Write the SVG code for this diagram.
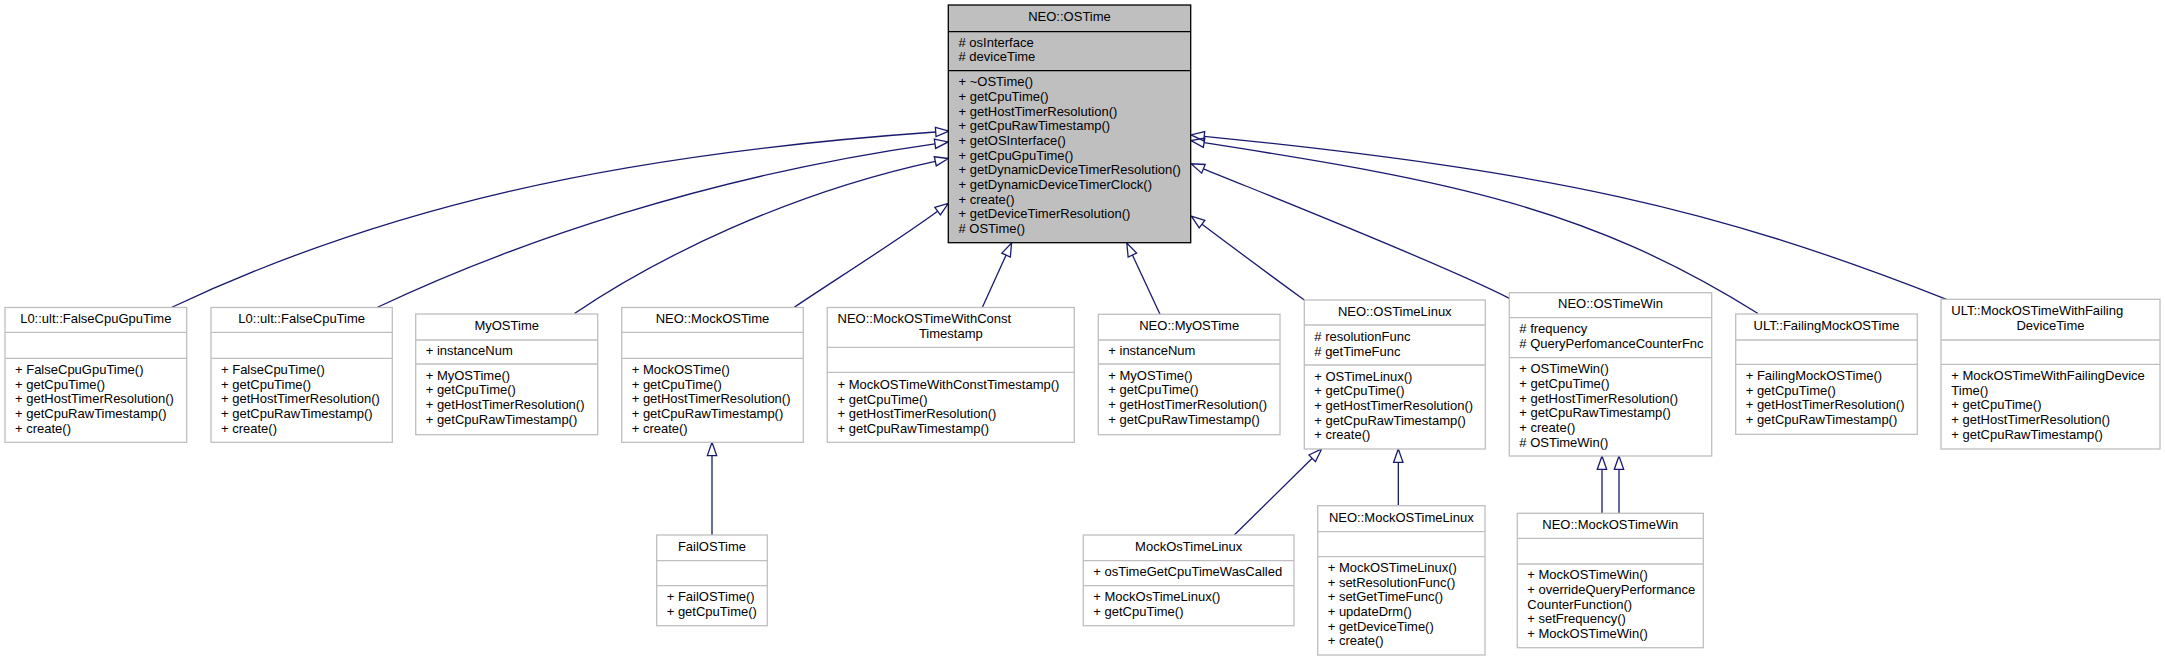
<svg xmlns="http://www.w3.org/2000/svg" width="2165" height="661" viewBox="0 0 2165 661">
<style>
text{font-family:"Liberation Sans",Arial,Helvetica,sans-serif;font-size:13px;fill:#000}
.c{text-anchor:middle}
.box{fill:#fff;stroke:#bfbfbf;stroke-width:1.3}
.sep{stroke:#bfbfbf;stroke-width:1.3}
.main{fill:#bfbfbf;stroke:#000;stroke-width:1.3}
.msep{stroke:#000;stroke-width:1.3}
.e{fill:none;stroke:#191970;stroke-width:1.3;marker-end:url(#arr)}
</style>
<defs>
<marker id="arr" markerUnits="userSpaceOnUse" markerWidth="16" markerHeight="12" refX="1" refY="6" orient="auto" overflow="visible">
<path d="M1,1.33 L14.3,6 L1,10.67 Z" fill="none" stroke="#191970" stroke-width="1.3"/>
</marker>
</defs>
<rect width="2165" height="661" fill="#fff"/>

<g id="connectors">
<path class="e" d="M171.4,307.5 C379.8,209.2 606.5,155.1 935.7,132"/>
<path class="e" d="M377,307.5 C513,243.4 707,176 935,143.8"/>
<path class="e" d="M574.5,313.5 C657.4,257.4 788.8,192.9 935.3,161.3"/>
<path class="e" d="M794,307.5 C827,285 897,241 937.6,211.2"/>
<path class="e" d="M982.3,307.5 L1006.1,255.1"/>
<path class="e" d="M1160,314.3 L1132.4,255.1"/>
<path class="e" d="M1304.3,300 C1270,275 1235,249 1202,224.2"/>
<path class="e" d="M1509.3,298.3 C1440,263 1270,196 1203.4,168.8"/>
<path class="e" d="M1758,313.5 C1588.4,207.3 1451,181 1204.1,142.7"/>
<path class="e" d="M1946.5,299.3 C1713.8,207.7 1550.7,171.3 1204.2,136.3"/>
<path class="e" d="M712,535 L712,455.6"/>
<path class="e" d="M1234.3,535 L1312.2,458.3"/>
<path class="e" d="M1398.3,505.7 L1398.3,462.3"/>
<path class="e" d="M1602,513.3 L1602,469.3"/>
<path class="e" d="M1619,513.3 L1619,469.3"/>
</g>

<g id="node-OSTime">
<rect class="main" x="948.3" y="5" width="242.4" height="237.7"/>
<line class="msep" x1="948.3" y1="31.7" x2="1190.7" y2="31.7"/>
<line class="msep" x1="948.3" y1="70.7" x2="1190.7" y2="70.7"/>
<text class="c" x="1069.5" y="20.7">NEO::OSTime</text>
<text x="958.5" y="46.7"># osInterface</text>
<text x="958.5" y="61.3"># deviceTime</text>
<text x="958.5" y="86.3">+ ~OSTime()</text>
<text x="958.5" y="101">+ getCpuTime()</text>
<text x="958.5" y="115.7">+ getHostTimerResolution()</text>
<text x="958.5" y="130.3">+ getCpuRawTimestamp()</text>
<text x="958.5" y="145">+ getOSInterface()</text>
<text x="958.5" y="159.7">+ getCpuGpuTime()</text>
<text x="958.5" y="174.3">+ getDynamicDeviceTimerResolution()</text>
<text x="958.5" y="189">+ getDynamicDeviceTimerClock()</text>
<text x="958.5" y="203.7">+ create()</text>
<text x="958.5" y="218.3">+ getDeviceTimerResolution()</text>
<text x="958.5" y="233"># OSTime()</text>
</g>

<g id="node-FalseCpuGpuTime">
<rect class="box" x="5" y="307.5" width="181.7" height="134.8"/>
<line class="sep" x1="5" y1="332.3" x2="186.7" y2="332.3"/>
<line class="sep" x1="5" y1="358.3" x2="186.7" y2="358.3"/>
<text class="c" x="95.8" y="323.2">L0::ult::FalseCpuGpuTime</text>
<text x="15" y="374">+ FalseCpuGpuTime()</text>
<text x="15" y="388.7">+ getCpuTime()</text>
<text x="15" y="403.3">+ getHostTimerResolution()</text>
<text x="15" y="418">+ getCpuRawTimestamp()</text>
<text x="15" y="432.7">+ create()</text>
</g>

<g id="node-FalseCpuTime">
<rect class="box" x="211" y="307.5" width="181.3" height="134.8"/>
<line class="sep" x1="211" y1="332.3" x2="392.3" y2="332.3"/>
<line class="sep" x1="211" y1="358.3" x2="392.3" y2="358.3"/>
<text class="c" x="301.7" y="323.2">L0::ult::FalseCpuTime</text>
<text x="221" y="374">+ FalseCpuTime()</text>
<text x="221" y="388.7">+ getCpuTime()</text>
<text x="221" y="403.3">+ getHostTimerResolution()</text>
<text x="221" y="418">+ getCpuRawTimestamp()</text>
<text x="221" y="432.7">+ create()</text>
</g>

<g id="node-MyOSTime">
<rect class="box" x="415.7" y="314" width="182" height="120.7"/>
<line class="sep" x1="415.7" y1="340" x2="597.7" y2="340"/>
<line class="sep" x1="415.7" y1="364" x2="597.7" y2="364"/>
<text class="c" x="506.7" y="329.7">MyOSTime</text>
<text x="425.7" y="355.2">+ instanceNum</text>
<text x="425.7" y="379.7">+ MyOSTime()</text>
<text x="425.7" y="394.3">+ getCpuTime()</text>
<text x="425.7" y="409">+ getHostTimerResolution()</text>
<text x="425.7" y="423.7">+ getCpuRawTimestamp()</text>
</g>

<g id="node-MockOSTime">
<rect class="box" x="621.7" y="307.5" width="181.6" height="134.8"/>
<line class="sep" x1="621.7" y1="332.3" x2="803.3" y2="332.3"/>
<line class="sep" x1="621.7" y1="358.3" x2="803.3" y2="358.3"/>
<text class="c" x="712.5" y="323.2">NEO::MockOSTime</text>
<text x="631.7" y="374">+ MockOSTime()</text>
<text x="631.7" y="388.7">+ getCpuTime()</text>
<text x="631.7" y="403.3">+ getHostTimerResolution()</text>
<text x="631.7" y="418">+ getCpuRawTimestamp()</text>
<text x="631.7" y="432.7">+ create()</text>
</g>

<g id="node-MockOSTimeWithConstTimestamp">
<rect class="box" x="827.3" y="307.5" width="247" height="134.8"/>
<line class="sep" x1="827.3" y1="347.3" x2="1074.3" y2="347.3"/>
<line class="sep" x1="827.3" y1="372.3" x2="1074.3" y2="372.3"/>
<text x="837.5" y="322.8">NEO::MockOSTimeWithConst</text>
<text class="c" x="950.8" y="337.5">Timestamp</text>
<text x="837.5" y="389">+ MockOSTimeWithConstTimestamp()</text>
<text x="837.5" y="403.7">+ getCpuTime()</text>
<text x="837.5" y="418.3">+ getHostTimerResolution()</text>
<text x="837.5" y="433">+ getCpuRawTimestamp()</text>
</g>

<g id="node-NEO-MyOSTime">
<rect class="box" x="1098.3" y="314.3" width="181.7" height="120.4"/>
<line class="sep" x1="1098.3" y1="340" x2="1280" y2="340"/>
<line class="sep" x1="1098.3" y1="364" x2="1280" y2="364"/>
<text class="c" x="1189.2" y="329.9">NEO::MyOSTime</text>
<text x="1108.3" y="355.2">+ instanceNum</text>
<text x="1108.3" y="379.7">+ MyOSTime()</text>
<text x="1108.3" y="394.3">+ getCpuTime()</text>
<text x="1108.3" y="409">+ getHostTimerResolution()</text>
<text x="1108.3" y="423.7">+ getCpuRawTimestamp()</text>
</g>

<g id="node-OSTimeLinux">
<rect class="box" x="1304.3" y="300" width="181" height="149"/>
<line class="sep" x1="1304.3" y1="325" x2="1485.3" y2="325"/>
<line class="sep" x1="1304.3" y1="365" x2="1485.3" y2="365"/>
<text class="c" x="1394.8" y="316">NEO::OSTimeLinux</text>
<text x="1314.3" y="341"># resolutionFunc</text>
<text x="1314.3" y="355.7"># getTimeFunc</text>
<text x="1314.3" y="380.7">+ OSTimeLinux()</text>
<text x="1314.3" y="395.3">+ getCpuTime()</text>
<text x="1314.3" y="410">+ getHostTimerResolution()</text>
<text x="1314.3" y="424.7">+ getCpuRawTimestamp()</text>
<text x="1314.3" y="439.3">+ create()</text>
</g>

<g id="node-OSTimeWin">
<rect class="box" x="1509.3" y="292.7" width="202.4" height="163.3"/>
<line class="sep" x1="1509.3" y1="317.7" x2="1711.7" y2="317.7"/>
<line class="sep" x1="1509.3" y1="357.7" x2="1711.7" y2="357.7"/>
<text class="c" x="1610.5" y="308.3">NEO::OSTimeWin</text>
<text x="1519.3" y="333.3"># frequency</text>
<text x="1519.3" y="348"># QueryPerfomanceCounterFnc</text>
<text x="1519.3" y="373.3">+ OSTimeWin()</text>
<text x="1519.3" y="388">+ getCpuTime()</text>
<text x="1519.3" y="402.7">+ getHostTimerResolution()</text>
<text x="1519.3" y="417.3">+ getCpuRawTimestamp()</text>
<text x="1519.3" y="432">+ create()</text>
<text x="1519.3" y="446.7"># OSTimeWin()</text>
</g>

<g id="node-FailingMockOSTime">
<rect class="box" x="1735.7" y="314" width="181.6" height="120.3"/>
<line class="sep" x1="1735.7" y1="340" x2="1917.3" y2="340"/>
<line class="sep" x1="1735.7" y1="364.3" x2="1917.3" y2="364.3"/>
<text class="c" x="1826.5" y="329.7">ULT::FailingMockOSTime</text>
<text x="1745.7" y="380">+ FailingMockOSTime()</text>
<text x="1745.7" y="394.7">+ getCpuTime()</text>
<text x="1745.7" y="409.3">+ getHostTimerResolution()</text>
<text x="1745.7" y="424">+ getCpuRawTimestamp()</text>
</g>

<g id="node-MockOSTimeWithFailingDeviceTime">
<rect class="box" x="1941" y="299.3" width="219" height="149.7"/>
<line class="sep" x1="1941" y1="340" x2="2160" y2="340"/>
<line class="sep" x1="1941" y1="364.3" x2="2160" y2="364.3"/>
<text x="1951.3" y="314.8">ULT::MockOSTimeWithFailing</text>
<text class="c" x="2050.5" y="329.5">DeviceTime</text>
<text x="1951.3" y="380">+ MockOSTimeWithFailingDevice</text>
<text x="1951.3" y="394.7">Time()</text>
<text x="1951.3" y="409.3">+ getCpuTime()</text>
<text x="1951.3" y="424">+ getHostTimerResolution()</text>
<text x="1951.3" y="438.7">+ getCpuRawTimestamp()</text>
</g>

<g id="node-FailOSTime">
<rect class="box" x="656.7" y="535" width="110.6" height="90.7"/>
<line class="sep" x1="656.7" y1="560.7" x2="767.3" y2="560.7"/>
<line class="sep" x1="656.7" y1="585.7" x2="767.3" y2="585.7"/>
<text class="c" x="712" y="550.7">FailOSTime</text>
<text x="666.7" y="601.3">+ FailOSTime()</text>
<text x="666.7" y="616">+ getCpuTime()</text>
</g>

<g id="node-MockOsTimeLinux">
<rect class="box" x="1083.3" y="535" width="210.7" height="90.7"/>
<line class="sep" x1="1083.3" y1="560.7" x2="1294" y2="560.7"/>
<line class="sep" x1="1083.3" y1="585.7" x2="1294" y2="585.7"/>
<text class="c" x="1188.7" y="550.7">MockOsTimeLinux</text>
<text x="1093.3" y="576.3">+ osTimeGetCpuTimeWasCalled</text>
<text x="1093.3" y="601.3">+ MockOsTimeLinux()</text>
<text x="1093.3" y="616">+ getCpuTime()</text>
</g>

<g id="node-NEO-MockOSTimeLinux">
<rect class="box" x="1317.7" y="505.7" width="167.3" height="149.3"/>
<line class="sep" x1="1317.7" y1="531.7" x2="1485" y2="531.7"/>
<line class="sep" x1="1317.7" y1="556.7" x2="1485" y2="556.7"/>
<text class="c" x="1401.3" y="521.5">NEO::MockOSTimeLinux</text>
<text x="1327.7" y="572">+ MockOSTimeLinux()</text>
<text x="1327.7" y="586.7">+ setResolutionFunc()</text>
<text x="1327.7" y="601.3">+ setGetTimeFunc()</text>
<text x="1327.7" y="616">+ updateDrm()</text>
<text x="1327.7" y="630.7">+ getDeviceTime()</text>
<text x="1327.7" y="645.3">+ create()</text>
</g>

<g id="node-MockOSTimeWin">
<rect class="box" x="1517.3" y="513.3" width="186" height="134.4"/>
<line class="sep" x1="1517.3" y1="538.3" x2="1703.3" y2="538.3"/>
<line class="sep" x1="1517.3" y1="564" x2="1703.3" y2="564"/>
<text class="c" x="1610.3" y="529">NEO::MockOSTimeWin</text>
<text x="1527.3" y="579.3">+ MockOSTimeWin()</text>
<text x="1527.3" y="594">+ overrideQueryPerformance</text>
<text x="1527.3" y="608.7">CounterFunction()</text>
<text x="1527.3" y="623.3">+ setFrequency()</text>
<text x="1527.3" y="638">+ MockOSTimeWin()</text>
</g>
</svg>
